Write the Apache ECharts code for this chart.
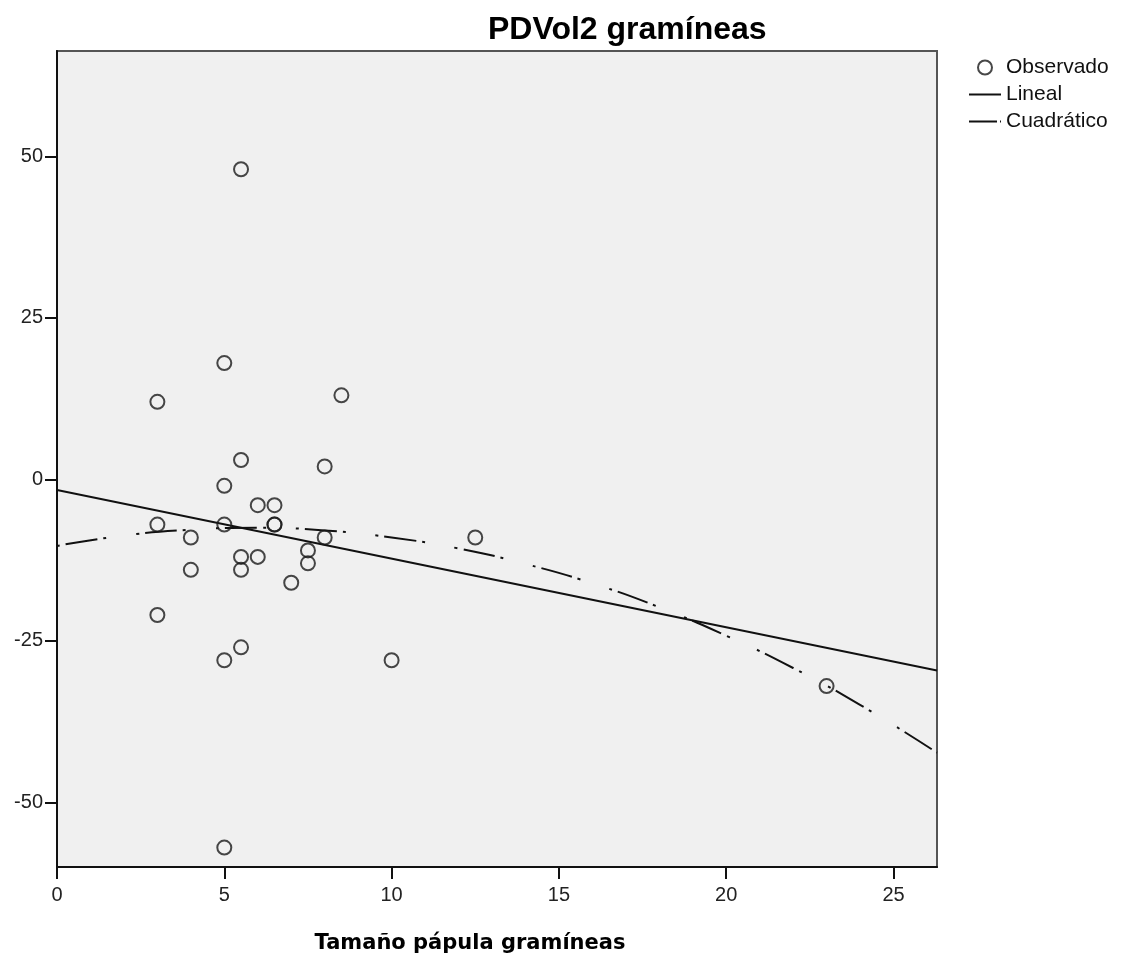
<!DOCTYPE html>
<html>
<head>
<meta charset="utf-8">
<title>PDVol2 gramíneas</title>
<script src="https://cdn.jsdelivr.net/npm/echarts@6/dist/echarts.min.js"></script>
<style>
  html, body { margin: 0; padding: 0; background: #ffffff; }
  #chart { width: 1123px; height: 960px; }
</style>
</head>
<body>
<div id="chart"></div>
<script>
// Observed values: papule size (x) vs PDVol2 (y)
const obsX = [5.5, 5, 3, 8.5, 5.5, 8, 5, 6, 6.5, 3, 5, 6.5, 6.5, 4, 8, 12.5, 5.5, 6, 7.5, 7.5, 4, 5.5, 7, 3, 5.5, 5, 10, 23, 5];
const obsY = [48, 18, 12, 13, 3, 2, -1, -4, -4, -7, -7, -7, -7, -9, -9, -9, -12, -12, -11, -13, -14, -14, -16, -21, -26, -28, -28, -32, -57];

// Linear fit, end points across the x range
const linX = [0, 26.3];
const linY = [-1.65, -29.6];

// Quadratic fit, points along the curve
const quadX = [0, 2, 4, 6, 8, 10, 12, 14, 16, 18, 20, 22, 24, 26.3];
const quadY = [-10.3, -8.7, -7.8, -7.5, -7.9, -9.0, -10.7, -13.1, -16.1, -19.8, -24.2, -29.2, -34.9, -42.3];

// Axis ticks
const xTicks = [0, 5, 10, 15, 20, 25];
const yTicks = [-50, -25, 0, 25, 50];

const pairs = (xs, ys) => xs.map((x, i) => [x, ys[i]]);

const FONT = '"Liberation Sans", Arial, sans-serif';
const INK = '#111';
const chart = echarts.init(document.getElementById('chart'), null, { renderer: 'canvas' });

chart.setOption({
  backgroundColor: '#ffffff',
  animation: false,
  color: ['#222', INK, INK],
  title: {
    text: 'PDVol2 gramíneas',
    left: 483,
    top: 9,
    textStyle: { fontFamily: FONT, fontWeight: 'bold', fontSize: 32, color: '#000' }
  },
  legend: {
    orient: 'vertical',
    left: 963,
    top: 52,
    itemWidth: 32,
    itemHeight: 14,
    itemGap: 6,
    textStyle: { fontFamily: FONT, fontSize: 21, color: '#111' },
    data: [
      { name: 'Observado' },
      { name: 'Lineal', itemStyle: { color: 'rgba(0,0,0,0)', borderWidth: 0 } },
      {
        name: 'Cuadrático',
        itemStyle: { color: 'rgba(0,0,0,0)', borderWidth: 0 },
        lineStyle: { type: [28, 3, 2, 60] }
      }
    ]
  },
  grid: {
    left: 57, right: 186, top: 51, bottom: 93,
    show: true,
    backgroundColor: '#f0f0f0',
    borderColor: '#555',
    borderWidth: 2
  },
  xAxis: {
    type: 'value',
    min: 0,
    max: 26.3,
    interval: 5,
    name: 'Tamaño pápula gramíneas',
    nameLocation: 'middle',
    nameGap: 66,
    nameTextStyle: {
      fontFamily: '"DejaVu Sans", Verdana, sans-serif',
      fontWeight: 'bold', fontSize: 21, color: '#000',
      padding: [0, 54, 0, 0]
    },
    axisLine: { show: true, onZero: false, lineStyle: { color: INK, width: 2 } },
    axisTick: { show: true, inside: false, length: 12, customValues: xTicks, lineStyle: { color: INK, width: 2 } },
    axisLabel: { customValues: xTicks, margin: 18, fontFamily: FONT, fontSize: 20, color: '#222' },
    splitLine: { show: false }
  },
  yAxis: {
    type: 'value',
    min: -60,
    max: 66.3,
    axisLine: { show: true, onZero: false, lineStyle: { color: INK, width: 2 } },
    axisTick: { show: true, inside: false, length: 12, customValues: yTicks, lineStyle: { color: INK, width: 2 } },
    axisLabel: { customValues: yTicks, margin: 14, fontFamily: FONT, fontSize: 20, color: '#222' },
    splitLine: { show: false }
  },
  series: [
    {
      name: 'Observado',
      type: 'scatter',
      symbol: 'circle',
      symbolSize: 14,
      itemStyle: { color: 'rgba(0,0,0,0)', borderColor: '#1a1a1a', borderWidth: 2 },
      data: pairs(obsX, obsY),
      z: 3
    },
    {
      name: 'Lineal',
      type: 'line',
      symbol: 'none',
      itemStyle: { color: INK },
      lineStyle: { color: INK, width: 2 },
      data: pairs(linX, linY),
      z: 2
    },
    {
      name: 'Cuadrático',
      type: 'line',
      symbol: 'none',
      smooth: true,
      itemStyle: { color: INK },
      lineStyle: { color: INK, width: 2, type: [3, 6, 32, 6, 3, 30] },
      data: pairs(quadX, quadY),
      z: 2
    }
  ]
});
</script>
</body>
</html>
